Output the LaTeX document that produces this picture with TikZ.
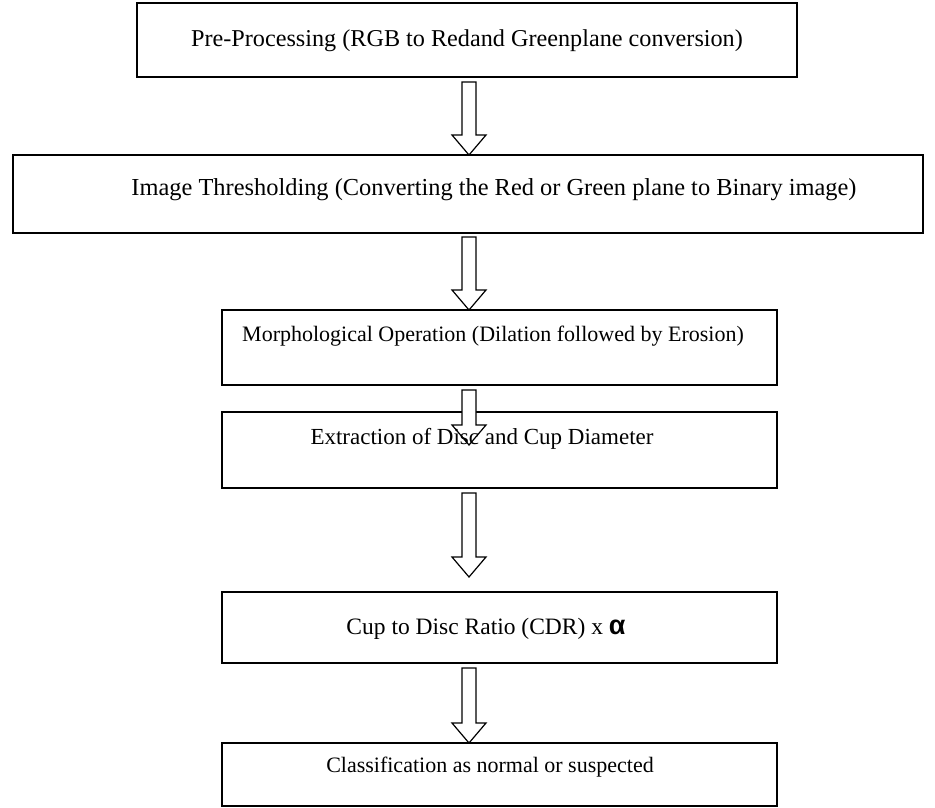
\documentclass[tikz,border=0pt]{standalone}
\usepackage{fontspec}
\setmainfont{Liberation Serif}
\newfontfamily\alphafont{Liberation Sans}
\begin{document}
\begin{tikzpicture}[x=1pt,y=-1pt,
  box/.style={draw=black, line width=1.4pt, fill=none},
  label/.style={font=\fontsize{23}{27}\selectfont, inner sep=0pt, anchor=base},
  arr/.style={draw=black, line width=1.2pt, fill=white, line join=miter}]
\useasboundingbox (0,0) rectangle (935,808);
\newcommand\blockarrow[4]{%
  \coordinate (#1) at (#2,#3);
  \draw[arr] (#2-7,#3) -- (#2+7,#3) -- (#2+7,#4-20) -- (#2+17,#4-20) -- (#2,#4)
    -- (#2-17,#4-20) -- (#2-7,#4-20) -- cycle;}
% boxes
\draw[box] (137,3) rectangle (797,77) node[pos=0.5, inner sep=0pt] (b1) {};
\draw[box] (13,155) rectangle (923,233) node[pos=0.5, inner sep=0pt] (b2) {};
\draw[box] (222,310) rectangle (777,385) node[pos=0.5, inner sep=0pt] (b3) {};
\draw[box] (222,412) rectangle (777,488) node[pos=0.5, inner sep=0pt] (b4) {};
\draw[box] (222,592) rectangle (777,663) node[pos=0.5, inner sep=0pt] (b5) {};
\draw[box] (222,743) rectangle (777,806) node[pos=0.5, inner sep=0pt] (b6) {};
% arrows
\blockarrow{a1}{469}{82}{155}
\blockarrow{a2}{469}{237}{310}
\blockarrow{a3}{469}{390}{445}
\blockarrow{a4}{469}{493}{577}
\blockarrow{a5}{469}{668}{743}
% texts
\node[label, font=\fontsize{24.2}{28}\selectfont] (t1) at (467,47) {Pre-Processing (RGB to Redand Greenplane conversion)};
\node[label, font=\fontsize{24.4}{28}\selectfont] (t2) at (494,195) {Image Thresholding (Converting the Red or Green plane to Binary image)};
\node[label, font=\fontsize{22}{26}\selectfont] (t3) at (493,341) {Morphological Operation (Dilation followed by Erosion)};
\node[label] (t4) at (482,444) {Extraction of Disc and Cup Diameter};
\node[label, font=\fontsize{23.5}{27}\selectfont] (t5) at (486,634) {Cup to Disc Ratio (CDR) x {\alphafont\bfseries\fontsize{27}{30}\selectfont α}};
\node[label, font=\fontsize{22}{26}\selectfont] (t6) at (490,772) {Classification as normal or suspected};
\end{tikzpicture}
\end{document}
